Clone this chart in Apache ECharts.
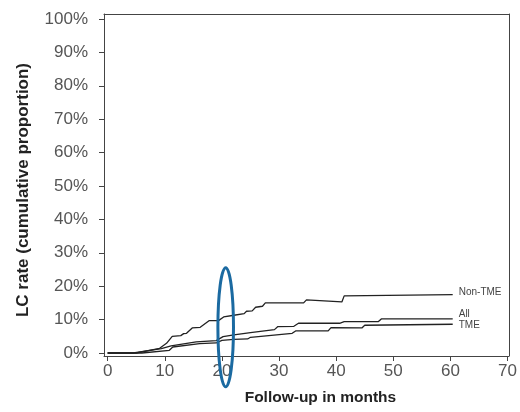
<!DOCTYPE html>
<html><head><meta charset="utf-8">
<script src="https://cdn.jsdelivr.net/npm/echarts@6/dist/echarts.min.js"></script>
<style>html,body{margin:0;padding:0;background:#fff}#c{width:520px;height:412px}</style>
</head><body><div id="c"></div>
<script>
// ---- data (months, cumulative %) ----
const xTicks = [0, 10, 20, 30, 40, 50, 60, 70];
const yTicks = [0, 10, 20, 30, 40, 50, 60, 70, 80, 90, 100];
const seriesNames = ['Non-TME', 'All', 'TME'];
const nonTME = [[0,0],[5,0],[7.1,0.7],[9.1,1.4],[10.3,2.9],[11.3,5.0],[12.8,5.2],[13.3,5.8],[13.8,5.9],[14.8,7.5],[16.2,7.7],[17.8,9.7],[19.4,9.7],[20.3,10.8],[22.1,11.3],[23.9,11.8],[24.3,12.5],[25.3,12.6],[25.9,13.7],[27.1,14.0],[27.6,15.0],[34.3,15.0],[34.8,15.9],[41.0,15.3],[41.4,17.1],[60.4,17.5]];
const allPts = [[0,0],[4.5,0],[9.4,1.3],[11.1,2.1],[15.5,3.3],[19.0,3.7],[20.2,4.9],[22.1,5.4],[25.0,6.1],[25.3,6.6],[29.2,7.0],[29.8,7.9],[32.6,8.0],[33.4,8.9],[40.6,8.9],[41.4,9.4],[47.4,9.4],[47.9,10.2],[60.4,10.2]];
const tme = [[0,0],[6,0],[10.8,0.8],[11.4,1.8],[16.1,2.8],[19.0,3.0],[20.0,3.8],[22.1,4.1],[24.5,4.2],[25.0,4.7],[32.3,5.9],[32.9,6.6],[38.6,6.6],[39.1,7.6],[44.5,7.5],[45.0,8.3],[60.4,8.6]];
const highlightCenter = [20.66, 7.7];

const FONT = "'Liberation Sans', Arial, sans-serif";
const chart = echarts.init(document.getElementById('c'), null, {renderer: 'canvas'});

function lineSeries(name, data, dy) {
  return {
    name, type: 'line', data, xAxisIndex: 0, yAxisIndex: 0,
    symbol: 'none', silent: true, animation: false,
    lineStyle: {color: '#222', width: 1.3},
    endLabel: {show: true, formatter: name, color: '#444', fontSize: 10,
      fontFamily: FONT, offset: [1, dy], distance: 5}
  };
}

chart.setOption({
  animation: false,
  backgroundColor: '#fff',
  grid: {left: 104, top: 14, width: 407.5, height: 342, containLabel: false},
  xAxis: [{
    type: 'value', min: -0.643, max: 70.23, position: 'bottom',
    splitLine: {show: false},
    axisLine: {show: true, onZero: false, lineStyle: {color: '#444', width: 1}},
    axisTick: {show: true, inside: false, length: 5, customValues: xTicks, lineStyle: {color: '#444'}},
    axisLabel: {customValues: xTicks, color: '#555', fontSize: 17, fontFamily: FONT, margin: 7},
    name: 'Follow-up in months', nameLocation: 'middle', nameGap: 34,
    nameTextStyle: {color: '#222', fontSize: 15.5, fontWeight: 'bold', fontFamily: FONT, padding: [0, 0, 0, 28]}
  }, {
    type: 'value', min: -0.643, max: 70.23, position: 'top',
    splitLine: {show: false}, axisTick: {show: false}, axisLabel: {show: false},
    axisLine: {show: true, onZero: false, lineStyle: {color: '#444', width: 1}}
  }],
  yAxis: [{
    type: 'value', min: -0.9, max: 101.5, position: 'left',
    splitLine: {show: false},
    axisLine: {show: true, onZero: false, lineStyle: {color: '#444', width: 1}},
    axisTick: {show: true, inside: false, length: 5, customValues: yTicks, lineStyle: {color: '#444'}},
    axisLabel: {customValues: yTicks, formatter: '{value}%', color: '#555', fontSize: 17, fontFamily: FONT, margin: 16},
    name: 'LC rate (cumulative proportion)', nameLocation: 'middle', nameGap: 72, nameRotate: 90,
    nameTextStyle: {color: '#222', fontSize: 17, fontWeight: 'bold', fontFamily: FONT, padding: [0, 10, 0, 0]}
  }, {
    type: 'value', min: -0.9, max: 101.5, position: 'right',
    splitLine: {show: false}, axisTick: {show: false}, axisLabel: {show: false},
    axisLine: {show: true, onZero: false, lineStyle: {color: '#444', width: 1}}
  }],
  series: [
    lineSeries(seriesNames[0], nonTME, -2),
    lineSeries(seriesNames[1], allPts, -5),
    lineSeries(seriesNames[2], tme, 1)
  ]
});

const c = chart.convertToPixel({xAxisIndex: 0, yAxisIndex: 0}, highlightCenter);
chart.setOption({
  graphic: [{
    type: 'ellipse', z: 100, silent: true,
    shape: {cx: c[0], cy: c[1], rx: 7.8, ry: 59.5},
    style: {fill: 'none', stroke: '#1b6aa1', lineWidth: 3}
  }]
});
</script>
</body></html>
